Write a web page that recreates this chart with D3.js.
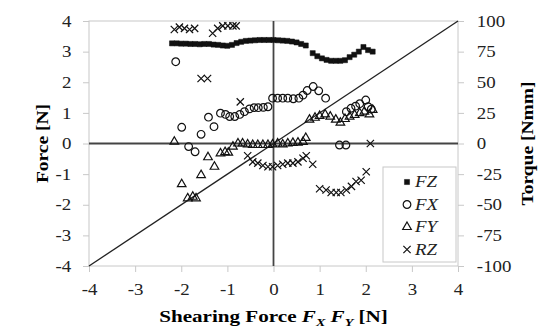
<!DOCTYPE html>
<html>
<head>
<meta charset="utf-8">
<script src="https://cdn.jsdelivr.net/npm/d3@7"></script>
<style>
  body { margin: 0; background: #fff; }
  text { font-family: 'Liberation Serif', 'Times New Roman', serif; }
</style>
</head>
<body>
<div id="chart"></div>
<script>
// shearing force [N] vs force [N] / torque [Nmm]
const fzX = [-2.2, -2.1, -2.0, -1.9, -1.8, -1.7, -1.6, -1.5, -1.4, -1.3, -1.2, -1.1, -1.0, -0.9, -0.8, -0.7, -0.6, -0.5, -0.4, -0.3, -0.2, -0.1, 0, 0.1, 0.2, 0.3, 0.4, 0.5, 0.6, 0.7, 0.85, 0.95, 1.05, 1.15, 1.25, 1.35, 1.45, 1.55, 1.65, 1.75, 1.85, 1.95, 2.05, 2.15]
const fzY = [3.27, 3.27, 3.26, 3.26, 3.25, 3.25, 3.24, 3.25, 3.25, 3.23, 3.22, 3.2, 3.19, 3.22, 3.28, 3.32, 3.35, 3.36, 3.37, 3.38, 3.38, 3.38, 3.38, 3.37, 3.36, 3.35, 3.33, 3.3, 3.25, 3.2, 2.95, 2.85, 2.78, 2.73, 2.7, 2.7, 2.7, 2.72, 2.82, 2.9, 3.0, 3.15, 3.05, 3.0]

const fxX = [-2.12, -1.99, -1.84, -1.7, -1.57, -1.41, -1.29, -1.15, -1.04, -0.95, -0.84, -0.73, -0.63, -0.52, -0.42, -0.33, -0.22, -0.12, -0.02, 0.09, 0.2, 0.31, 0.43, 0.55, 0.64, 0.73, 0.86, 0.98, 1.13, 1.43, 1.57, 1.58, 1.68, 1.78, 1.87, 2.0, 2.05, 2.12]
const fxY = [2.67, 0.53, -0.1, -0.27, 0.3, 0.86, 0.55, 0.99, 0.95, 0.88, 0.88, 0.95, 1.04, 1.13, 1.17, 1.17, 1.18, 1.2, 1.48, 1.48, 1.48, 1.48, 1.46, 1.48, 1.58, 1.73, 1.86, 1.72, 1.48, -0.05, -0.05, 1.04, 1.15, 1.22, 1.3, 1.42, 1.2, 1.12]

const fyX = [-2.15, -1.99, -1.86, -1.75, -1.68, -1.57, -1.42, -1.28, -1.15, -1.05, -0.98, -0.88, -0.77, -0.67, -0.56, -0.45, -0.34, -0.23, -0.12, -0.02, 0.09, 0.2, 0.31, 0.42, 0.53, 0.64, 0.7, 0.78, 0.9, 1.0, 1.12, 1.23, 1.35, 1.45, 1.55, 1.65, 1.76, 1.87, 1.97, 2.08, 2.15]
const fyY = [0.06, -1.33, -1.79, -1.74, -1.79, -1.03, -0.45, -0.76, -0.32, -0.28, -0.3, -0.1, 0, 0, -0.03, -0.05, -0.05, -0.05, -0.05, -0.03, 0, -0.03, 0, 0.02, 0.03, 0.05, 0.18, 0.78, 0.84, 0.9, 0.95, 0.88, 0.78, 0.68, 0.8, 0.88, 0.93, 0.99, 1.04, 0.95, 1.1]

// RZ is on the torque axis
const rzX = [-2.15, -2.04, -1.93, -1.82, -1.71, -1.57, -1.43, -1.32, -1.21, -1.1, -0.99, -0.88, -0.81, -0.72, -0.56, -0.45, -0.34, -0.23, -0.12, -0.02, 0.09, 0.2, 0.31, 0.42, 0.53, 0.64, 0.71, 0.85, 1.0, 1.14, 1.25, 1.36, 1.46, 1.58, 1.69, 1.79, 1.9, 2.01, 2.1]
const rzY = [93, 95, 94, 93, 94, 53, 53, 90, 94, 96, 96, 96, 96, 34, -10, -15, -16, -18, -19, -19, -18, -17, -16, -16, -15, -12, -10, -17, -37, -38, -40, -40, -40, -38, -35, -31, -30, -23, 0]

const xTicks = [-4, -3, -2, -1, 0, 1, 2, 3, 4]
const yTicks = [-4, -3, -2, -1, 0, 1, 2, 3, 4]
const tTicks = [-100, -75, -50, -25, 0, 25, 50, 75, 100]
const legendNames = ['FZ', 'FX', 'FY', 'RZ']

const W = 552
const H = 330
const pLeft = 89, pRight = 458, pTop = 21, pBottom = 266
const stretch = 1.18 // the original font runs wider than Liberation Serif

const svg = d3.select('#chart').append('svg')
  .attr('width', W)
  .attr('height', H)

const x = d3.scaleLinear().domain([-4, 4]).range([pLeft, pRight])
const y = d3.scaleLinear().domain([-4, 4]).range([pBottom, pTop])
const yT = d3.scaleLinear().domain([-100, 100]).range([pBottom, pTop])

const grey = '#c8c8c8'
const fmt = d => String(d) // plain hyphen minus like the original

// plot area border
svg.append('rect')
  .attr('x', pLeft).attr('y', pTop)
  .attr('width', pRight - pLeft).attr('height', pBottom - pTop)
  .attr('fill', 'none').attr('stroke', grey)

// axes
const styleAxis = g => {
  g.attr('font-family', "'Liberation Serif', serif").attr('font-size', 16)
  g.select('.domain').remove()
  g.selectAll('.tick line').attr('stroke', grey)
  g.selectAll('.tick text').attr('fill', '#222')
    .attr('transform', `scale(${stretch},1)`)
}

svg.append('g')
  .attr('transform', `translate(${pLeft},0)`)
  .call(d3.axisLeft(y).tickValues(yTicks).tickFormat(fmt).tickSize(6).tickPadding(9))
  .call(styleAxis)

svg.append('g')
  .attr('transform', `translate(${pRight},0)`)
  .call(d3.axisRight(yT).tickValues(tTicks).tickFormat(fmt).tickSize(6).tickPadding(10))
  .call(styleAxis)

svg.append('g')
  .attr('transform', `translate(0,${pBottom})`)
  .call(d3.axisBottom(x).tickValues(xTicks).tickFormat(fmt).tickSize(6).tickPadding(12))
  .call(styleAxis)

// zero lines
svg.append('line')
  .attr('x1', x(0)).attr('x2', x(0)).attr('y1', pTop).attr('y2', pBottom)
  .attr('stroke', '#444').attr('stroke-width', 1.8)
svg.append('line')
  .attr('x1', pLeft).attr('x2', pRight).attr('y1', y(0)).attr('y2', y(0))
  .attr('stroke', '#444').attr('stroke-width', 1.8)

// y = x reference line
svg.append('line')
  .attr('x1', x(-4)).attr('y1', y(-4)).attr('x2', x(4)).attr('y2', y(4))
  .attr('stroke', '#222').attr('stroke-width', 1.3)

// marker shapes
const sym = {
  FZ: d3.symbol().type(d3.symbolSquare).size(26),
  FX: d3.symbol().type(d3.symbolCircle).size(46),
  FY: d3.symbol().type(d3.symbolTriangle).size(32),
  RZ: d3.symbol().type(d3.symbolTimes).size(36)
}
const drawSeries = (name, xs, ys, yScale) => {
  const pts = xs.map((v, i) => ({ x: v, y: ys[i] }))
  const filled = name === 'FZ'
  svg.append('g').selectAll('path')
    .data(pts)
    .enter()
    .append('path')
    .attr('d', sym[name]())
    .attr('transform', d => `translate(${x(d.x)},${yScale(d.y)})`)
    .attr('fill', filled ? '#111' : 'none')
    .attr('stroke', '#111')
    .attr('stroke-width', filled ? 0.5 : 1.2)
}

drawSeries('FZ', fzX, fzY, y)
drawSeries('FX', fxX, fxY, y)
drawSeries('FY', fyX, fyY, y)
drawSeries('RZ', rzX, rzY, yT)

// legend
const lg = svg.append('g').attr('transform', 'translate(383,167)')
lg.append('rect')
  .attr('width', 73).attr('height', 95)
  .attr('fill', '#fff').attr('stroke', grey)
legendNames.forEach((n, i) => {
  const cy = 15 + i * 22.5
  lg.append('path')
    .attr('d', sym[n]())
    .attr('transform', `translate(24,${cy})`)
    .attr('fill', n === 'FZ' ? '#111' : 'none')
    .attr('stroke', '#111')
    .attr('stroke-width', n === 'FZ' ? 0.5 : 1.2)
  lg.append('text')
    .attr('transform', `translate(32,${cy + 5}) scale(${stretch},1)`)
    .attr('font-size', 16).attr('font-style', 'italic')
    .attr('fill', '#222')
    .text(n)
})

// axis titles
svg.append('text')
  .attr('transform', `translate(48,${(pTop + pBottom) / 2}) rotate(-90) scale(1.22,1)`)
  .attr('text-anchor', 'middle')
  .attr('font-size', 16).attr('font-weight', 'bold')
  .text('Force [N]')

svg.append('text')
  .attr('transform', `translate(533,${(pTop + pBottom) / 2}) rotate(-90) scale(1.22,1)`)
  .attr('text-anchor', 'middle')
  .attr('font-size', 16).attr('font-weight', 'bold')
  .text('Torque [Nmm]')

const xt = svg.append('text')
  .attr('transform', `translate(${x(0)},322) scale(1.28,1)`)
  .attr('text-anchor', 'middle')
  .attr('font-size', 16.5).attr('font-weight', 'bold')
xt.append('tspan').text('Shearing Force ')
xt.append('tspan').attr('font-style', 'italic').text('F')
xt.append('tspan').attr('font-style', 'italic').attr('font-size', 11).attr('dy', 4).text('X')
xt.append('tspan').attr('dy', -4).text(' ')
xt.append('tspan').attr('font-style', 'italic').text('F')
xt.append('tspan').attr('font-style', 'italic').attr('font-size', 11).attr('dy', 4).text('Y')
xt.append('tspan').attr('dy', -4).text(' [N]')
</script>
</body>
</html>
